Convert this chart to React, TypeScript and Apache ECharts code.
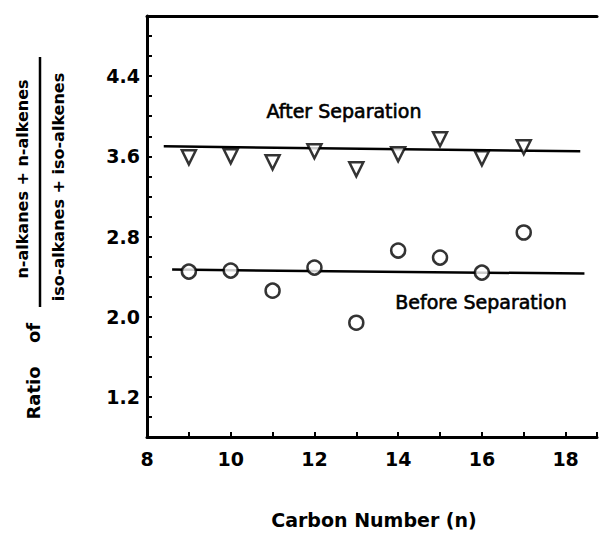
import React, { useEffect, useRef } from "react";
import * as echarts from "echarts";

const carbonNumbers = [9, 10, 11, 12, 13, 14, 15, 16, 17];
const afterSeparation = [3.59, 3.6, 3.54, 3.65, 3.47, 3.62, 3.77, 3.58, 3.69];
const beforeSeparation = [2.45, 2.46, 2.26, 2.49, 1.94, 2.66, 2.59, 2.44, 2.84];
const afterFitLine = [
  [8.4, 3.7],
  [18.35, 3.65],
];
const beforeFitLine = [
  [8.6, 2.47],
  [18.45, 2.43],
];
const xTickLabels = [8, 10, 12, 14, 16, 18];
const yTickLabels = [1.2, 2.0, 2.8, 3.6, 4.4];

const FONT = "DejaVu Sans";

export default function App() {
  const ref = useRef<HTMLDivElement>(null);
  useEffect(() => {
    if (!ref.current) return;
    const chart = echarts.init(ref.current, undefined, { renderer: "svg" });
    const axisCommon = {
      type: "value" as const,
      axisLine: { show: true, lineStyle: { color: "#000", width: 3 } },
      splitLine: { show: false },
    };
    chart.setOption({
      animation: false,
      backgroundColor: "#fff",
      grid: { left: 147, right: 3, top: 16, bottom: 98 },
      xAxis: [
        {
          ...axisCommon,
          min: 8,
          max: 18.75,
          interval: 1,
          axisTick: { show: true, inside: true, length: 5, lineStyle: { color: "#000", width: 2 } },
          axisLabel: {
            color: "#000",
            fontFamily: FONT,
            fontWeight: "bold",
            fontSize: 19,
            margin: 12,
            formatter: (v: number) =>
              xTickLabels.some((t) => Math.abs(t - v) < 1e-6) ? String(Math.round(v)) : "",
          },
        },
        {
          ...axisCommon,
          position: "top",
          min: 8,
          max: 18.75,
          axisTick: { show: false },
          axisLabel: { show: false },
        },
      ],
      yAxis: {
        ...axisCommon,
        min: 0.8,
        max: 5.0,
        interval: 0.2,
        axisTick: { show: true, inside: true, length: 5, lineStyle: { color: "#000", width: 2 } },
        axisLabel: {
          color: "#000",
          fontFamily: FONT,
          fontWeight: "bold",
          fontSize: 19,
          margin: 7,
          formatter: (v: number) => {
            const t = yTickLabels.find((y) => Math.abs(y - v) < 1e-6);
            return t !== undefined ? t.toFixed(1) : "";
          },
        },
      },
      series: [
        {
          type: "line",
          data: afterFitLine,
          showSymbol: false,
          symbol: "none",
          lineStyle: { color: "#000", width: 2.5 },
          z: 2,
        },
        {
          type: "line",
          data: beforeFitLine,
          showSymbol: false,
          symbol: "none",
          lineStyle: { color: "#000", width: 2.5 },
          z: 2,
        },
        {
          type: "scatter",
          data: carbonNumbers.map((c, i) => [c, afterSeparation[i]]),
          symbol: "triangle",
          symbolRotate: 180,
          symbolSize: 14,
          itemStyle: { color: "#fff", borderColor: "#000", borderWidth: 2.5 },
          z: 3,
        },
        {
          type: "scatter",
          data: carbonNumbers.map((c, i) => [c, beforeSeparation[i]]),
          symbol: "circle",
          symbolSize: 14,
          itemStyle: { color: "#fff", borderColor: "#000", borderWidth: 2.5 },
          z: 3,
        },
      ],
      graphic: [
        {
          type: "text",
          x: 344,
          y: 111,
          style: {
            text: "After Separation",
            fontFamily: FONT,
            fontSize: 19,
            fill: "#000",
            stroke: "#000",
            lineWidth: 0.6,
            align: "center",
            verticalAlign: "middle",
          },
        },
        {
          type: "text",
          x: 481,
          y: 302,
          style: {
            text: "Before Separation",
            fontFamily: FONT,
            fontSize: 19,
            fill: "#000",
            stroke: "#000",
            lineWidth: 0.6,
            align: "center",
            verticalAlign: "middle",
          },
        },
        {
          type: "text",
          x: 374,
          y: 520,
          style: {
            text: "Carbon Number (n)",
            fontFamily: FONT,
            fontWeight: "bold",
            fontSize: 19,
            fill: "#000",
            align: "center",
            verticalAlign: "middle",
          },
        },
        {
          type: "text",
          x: 22,
          y: 179,
          rotation: Math.PI / 2,
          style: {
            text: "n-alkanes + n-alkenes",
            fontFamily: FONT,
            fontWeight: "bold",
            fontSize: 16,
            fill: "#000",
            align: "center",
            verticalAlign: "middle",
          },
        },
        {
          type: "line",
          shape: { x1: 40, y1: 57, x2: 40, y2: 307 },
          style: { stroke: "#000", lineWidth: 2.5 },
        },
        {
          type: "text",
          x: 58,
          y: 187,
          rotation: Math.PI / 2,
          style: {
            text: "iso-alkanes + iso-alkenes",
            fontFamily: FONT,
            fontWeight: "bold",
            fontSize: 16,
            fill: "#000",
            align: "center",
            verticalAlign: "middle",
          },
        },
        {
          type: "text",
          x: 33,
          y: 333,
          rotation: Math.PI / 2,
          style: {
            text: "of",
            fontFamily: FONT,
            fontWeight: "bold",
            fontSize: 18,
            fill: "#000",
            align: "center",
            verticalAlign: "middle",
          },
        },
        {
          type: "text",
          x: 33,
          y: 393,
          rotation: Math.PI / 2,
          style: {
            text: "Ratio",
            fontFamily: FONT,
            fontWeight: "bold",
            fontSize: 18,
            fill: "#000",
            align: "center",
            verticalAlign: "middle",
          },
        },
      ],
    });
    return () => chart.dispose();
  }, []);
  return (
    <div
      ref={ref}
      style={{ position: "fixed", left: 0, top: 0, width: 600, height: 535, background: "#fff" }}
    />
  );
}
